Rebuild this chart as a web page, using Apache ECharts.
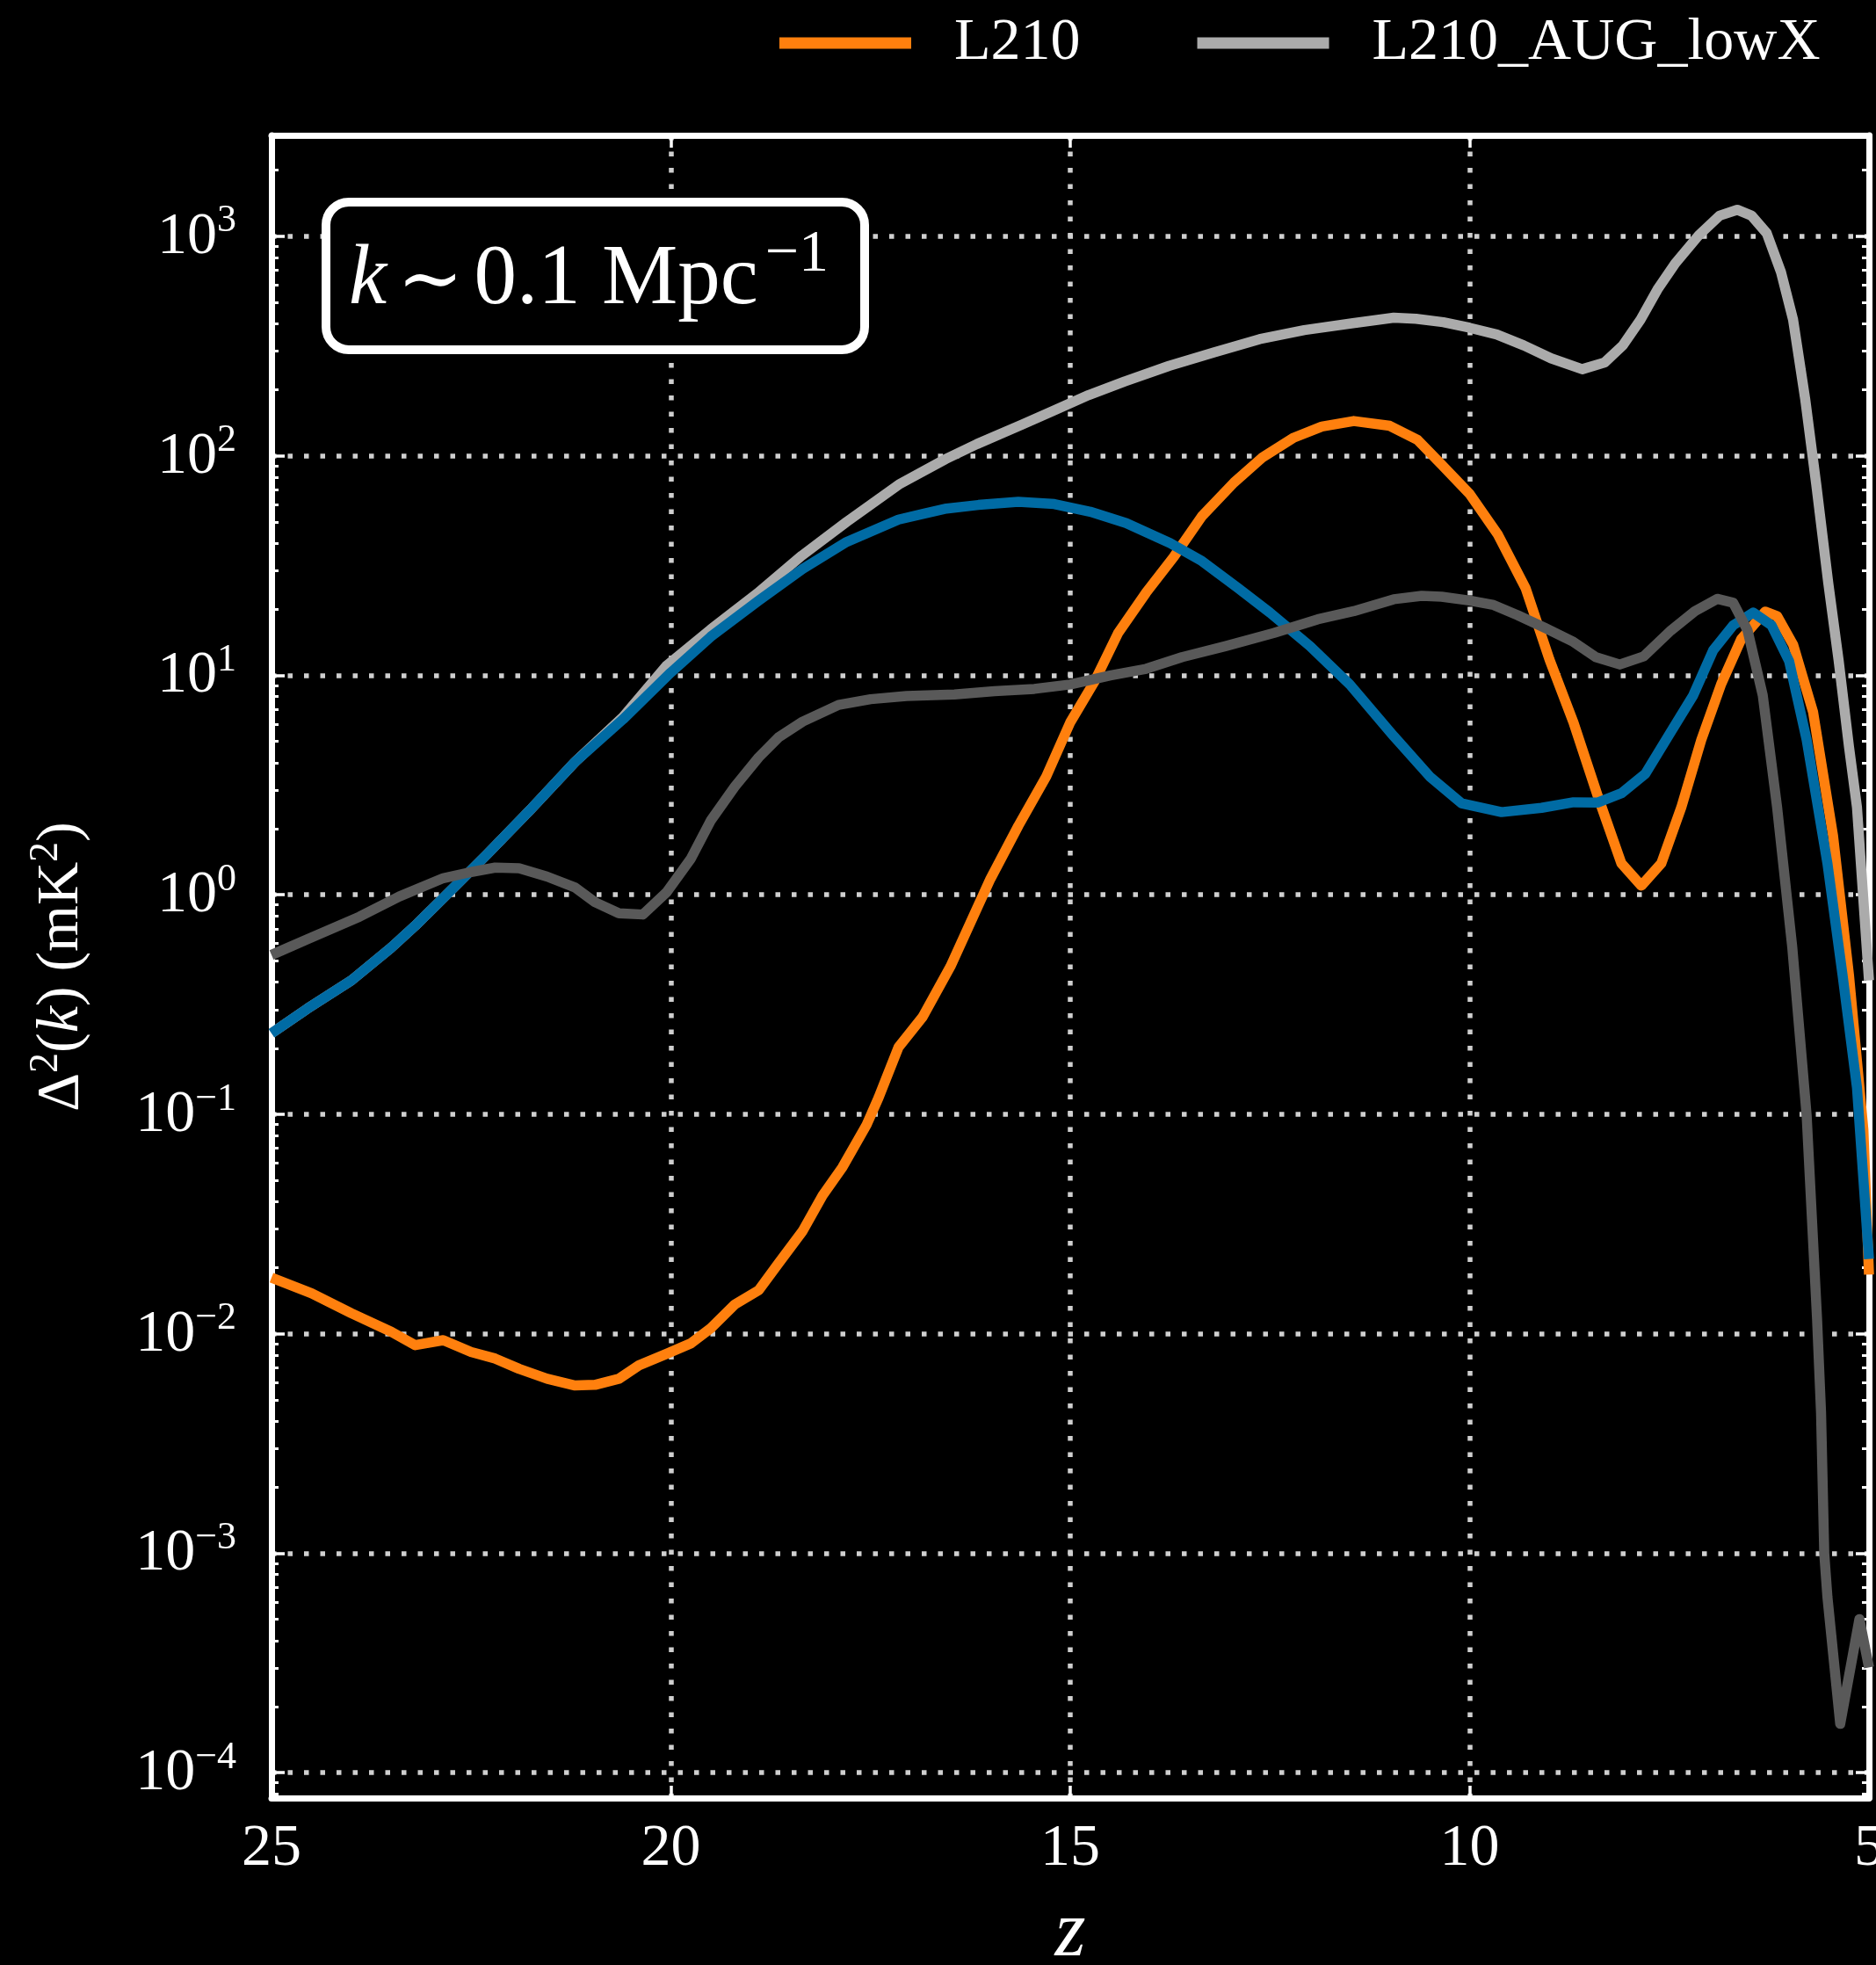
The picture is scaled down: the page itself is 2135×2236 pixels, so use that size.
<!DOCTYPE html>
<html>
<head>
<meta charset="utf-8">
<script src="https://cdn.jsdelivr.net/npm/echarts@6/dist/echarts.min.js"></script>
<style>
  html, body { margin: 0; padding: 0; background: #000; }
  #chart { width: 2135px; height: 2236px; }
</style>
</head>
<body>
<div id="chart"></div>
<script>
// Power spectrum amplitude at k ~ 0.1 Mpc^-1 against redshift, four runs.
const FONT = '"Liberation Serif", "Times New Roman", "DejaVu Serif", serif';

// x axis (redshift) ticks
const zTicks = [25, 20, 15, 10, 5];
// y axis (log) decades and their exponent labels
const yDecades = [1e-4, 1e-3, 1e-2, 1e-1, 1, 10, 100, 1000];
const yExponents = ['−4', '−3', '−2', '−1', '0', '1', '2', '3'];
const Y_MIN = 7.67e-5;
const Y_MAX = 2884;

// L210
const L210_z = [25.0, 24.5, 24.0, 23.5, 23.2, 22.85, 22.5, 22.2, 21.9, 21.55,
  21.2, 20.95, 20.65, 20.4, 20.05, 19.75, 19.5, 19.2, 18.9, 18.65,
  18.35, 18.1, 17.85, 17.55, 17.4, 17.15, 16.85, 16.5, 16.0, 15.65,
  15.3, 15.0, 14.7, 14.4, 14.05, 13.7, 13.35, 12.95, 12.6, 12.2,
  11.85, 11.45, 11.0, 10.65, 10.35, 10.0, 9.65, 9.3, 9.0, 8.7,
  8.4, 8.1, 7.85, 7.6, 7.35, 7.1, 6.85, 6.6, 6.3, 6.15,
  5.95, 5.7, 5.45, 5.25, 5.07, 5.0];
const L210_val = [0.0180, 0.0153, 0.0124, 0.0102, 0.00887, 0.00935, 0.00826, 0.00771, 0.00692, 0.00624,
  0.00581, 0.00585, 0.00624, 0.00718, 0.00811, 0.00904, 0.0106, 0.0136, 0.0158, 0.0210,
  0.0294, 0.0427, 0.0575, 0.0895, 0.119, 0.202, 0.277, 0.471, 1.18, 2.06,
  3.46, 6.10, 9.31, 15.6, 23.8, 34.8, 53.1, 75.5, 97.9, 121,
  136, 144, 137, 118, 91.2, 67.1, 44.0, 25.0, 11.8, 6.10,
  2.85, 1.39, 1.10, 1.39, 2.50, 5.07, 9.12, 14.6, 19.5, 18.6,
  13.8, 6.81, 1.86, 0.429, 0.085, 0.0186];

// L210_AUG_lowX
const augLowX_z = [25.0, 24.55, 24.0, 23.5, 23.2, 22.75, 22.3, 21.75, 21.2, 20.6,
  20.05, 19.5, 18.92, 18.36, 17.8, 17.13, 16.56, 16.17, 15.6, 15.22,
  14.77, 14.32, 13.76, 13.2, 12.63, 12.07, 11.46, 10.95, 10.67, 10.33,
  10.0, 9.66, 9.32, 8.98, 8.59, 8.31, 8.08, 7.86, 7.64, 7.42,
  7.13, 6.87, 6.65, 6.47, 6.28, 6.10, 5.95, 5.80, 5.66, 5.51,
  5.38, 5.25, 5.15, 5.0];
const augLowX_val = [0.234, 0.303, 0.407, 0.575, 0.723, 1.05, 1.53, 2.46, 4.03, 6.45,
  11.1, 16.2, 23.6, 35.1, 50.0, 74.6, 96.6, 113, 139, 160,
  189, 218, 257, 296, 340, 374, 402, 426, 421, 406,
  383, 357, 318, 278, 248, 266, 319, 417, 579, 757,
  1012, 1242, 1321, 1242, 1033, 684, 417, 183, 74.0, 26.4,
  11.7, 4.72, 2.50, 0.407];

// L210_AUG
const aug_z = [25.0, 24.55, 24.0, 23.5, 23.2, 22.75, 22.3, 21.75, 21.2, 20.6,
  20.0, 19.5, 18.9, 18.35, 17.8, 17.15, 16.85, 16.55, 16.15, 15.65,
  15.2, 14.75, 14.3, 13.75, 13.35, 12.9, 12.5, 12.0, 11.5, 10.95,
  10.5, 10.1, 9.6, 9.1, 8.7, 8.4, 8.1, 7.8, 7.5, 7.2,
  6.95, 6.7, 6.45, 6.22, 6.0, 5.78, 5.52, 5.33, 5.15, 5.0];
const aug_val = [0.234, 0.303, 0.407, 0.575, 0.723, 1.05, 1.53, 2.46, 4.03, 6.30,
  10.3, 15.0, 21.9, 30.5, 40.5, 51.2, 54.3, 57.5, 59.7, 61.7,
  60.3, 55.6, 49.4, 40.0, 33.1, 25.0, 19.3, 13.6, 9.08, 5.28,
  3.46, 2.61, 2.38, 2.49, 2.64, 2.63, 2.90, 3.56, 5.37, 8.11,
  13.0, 16.9, 19.3, 16.9, 11.6, 5.07, 1.39, 0.429, 0.132, 0.0219];

// L210_lowX
const lowX_z = [25.0, 24.55, 23.9, 23.4, 22.85, 22.5, 22.2, 21.9, 21.55, 21.2,
  20.95, 20.65, 20.35, 20.05, 19.75, 19.5, 19.2, 18.9, 18.65, 18.35,
  17.9, 17.5, 17.05, 16.45, 15.95, 15.45, 15.0, 14.5, 14.05, 13.6,
  13.05, 12.45, 11.9, 11.45, 10.95, 10.6, 10.35, 10.0, 9.7, 9.4,
  9.05, 8.7, 8.42, 8.12, 7.82, 7.48, 7.18, 6.9, 6.7, 6.52,
  6.33, 6.15, 5.96, 5.78, 5.65, 5.60, 5.56, 5.52, 5.36, 5.12,
  5.0];
const lowX_val = [0.532, 0.628, 0.794, 0.982, 1.19, 1.27, 1.33, 1.32, 1.21, 1.08,
  0.925, 0.824, 0.813, 1.03, 1.46, 2.18, 3.11, 4.23, 5.22, 6.15,
  7.33, 7.78, 8.05, 8.17, 8.47, 8.67, 9.08, 9.98, 10.7, 12.1,
  13.6, 15.6, 18.0, 19.6, 22.2, 23.0, 22.8, 21.9, 20.9, 18.8,
  16.4, 14.2, 12.1, 11.2, 12.2, 16.0, 19.6, 22.3, 21.4, 16.0,
  8.11, 2.50, 0.575, 0.0984, 0.0117, 0.00437, 0.00100, 0.000631, 0.000167, 0.000501,
  0.000302];

const COLORS = { L210: '#FF800E', augLowX: '#ABABAB', aug: '#006BA4', lowX: '#595959' };

// minor log ticks at 2..9 x 10^n inside the axis range
const yMinor = [];
for (let e = -5; e <= 3; e++) {
  for (let m = 2; m <= 9; m++) {
    const v = m * Math.pow(10, e);
    if (v >= Y_MIN && v <= Y_MAX) yMinor.push(v);
  }
}

const WHITE = '#ffffff';
const SPINE_W = 7;
const GRID_LINE = { show: true, lineStyle: { color: '#cfcfcf', width: 5.5, type: [5.5, 13] } };

function pairs(zs, vs) { return zs.map((z, i) => [z, vs[i]]); }
function lineSeries(name, color, zs, vs) {
  return {
    name: name, type: 'line', data: pairs(zs, vs),
    xAxisIndex: 0, yAxisIndex: 0,
    showSymbol: false, symbol: 'none', silent: true, clip: true,
    lineStyle: { color: color, width: 11.5, join: 'round', cap: 'butt' },
    itemStyle: { color: color }
  };
}

function expLabel(value) {
  const e = Math.round(Math.log10(value));
  const idx = yDecades.findIndex(d => Math.round(Math.log10(d)) === e);
  return '{b|10}{s|' + yExponents[idx] + '}';
}

function logAxis(position, tickValues, tickLen, tickWidth, withLine, withLabels, withGrid) {
  return {
    type: 'log', logBase: 10, position: position,
    min: Y_MIN, max: Y_MAX,
    axisLine: { show: withLine, lineStyle: { color: WHITE, width: SPINE_W } },
    axisTick: { show: true, inside: true, length: tickLen, customValues: tickValues,
      lineStyle: { color: WHITE, width: tickWidth } },
    axisLabel: withLabels ? {
      show: true, customValues: yDecades, margin: 40, formatter: expLabel,
      rich: {
        b: { fontFamily: FONT, fontSize: 68, color: WHITE, verticalAlign: 'bottom', lineHeight: 70 },
        s: { fontFamily: FONT, fontSize: 44, color: WHITE, verticalAlign: 'bottom', lineHeight: 44, padding: [0, 0, 30, 0] }
      }
    } : { show: false },
    splitLine: withGrid ? GRID_LINE : { show: false },
    minorTick: { show: false }
  };
}

const option = {
  backgroundColor: '#000000',
  animation: false,
  grid: { left: 309, right: 8, top: 154, bottom: 190, outerBoundsMode: 'none', containLabel: false },
  legend: {
    left: 887, top: 15, padding: 0,
    itemWidth: 150, itemHeight: 13, itemGap: 133,
    data: [{ name: 'L210', icon: 'rect' }, { name: 'L210_AUG_lowX', icon: 'rect' }],
    textStyle: { color: WHITE, fontFamily: FONT, fontSize: 68, padding: [0, 0, 0, 44] },
    selectedMode: false
  },
  xAxis: [
    {
      type: 'value', position: 'bottom', min: 5, max: 25, interval: 5, inverse: true,
      axisLine: { show: true, lineStyle: { color: WHITE, width: SPINE_W } },
      axisTick: { show: true, inside: true, length: 14, lineStyle: { color: WHITE, width: 3.5 } },
      axisLabel: { show: true, color: WHITE, fontFamily: FONT, fontSize: 68, margin: 24,
        customValues: zTicks },
      splitLine: GRID_LINE,
      name: 'z', nameLocation: 'middle', nameGap: 110,
      nameTextStyle: { color: WHITE, fontFamily: FONT, fontSize: 90, fontStyle: 'italic' }
    },
    {
      type: 'value', position: 'top', min: 5, max: 25, interval: 5, inverse: true,
      axisLine: { show: true, lineStyle: { color: WHITE, width: SPINE_W } },
      axisTick: { show: true, inside: true, length: 14, lineStyle: { color: WHITE, width: 3.5 } },
      axisLabel: { show: false },
      splitLine: { show: false }
    }
  ],
  yAxis: [
    Object.assign(logAxis('left', yDecades, 15, 3.5, true, true, true), {
      name: '{n|Δ}{s|2}{n|(}{i|k}{n|) (mK}{s|2}{n|)}',
      nameLocation: 'middle', nameGap: 205,
      nameTextStyle: {
        color: WHITE,
        rich: {
          n: { fontFamily: FONT, fontSize: 68, color: WHITE, verticalAlign: 'bottom', lineHeight: 70 },
          i: { fontFamily: FONT, fontSize: 68, fontStyle: 'italic', color: WHITE, verticalAlign: 'bottom', lineHeight: 70 },
          s: { fontFamily: FONT, fontSize: 46, color: WHITE, verticalAlign: 'bottom', lineHeight: 46, padding: [0, 0, 28, 0] }
        }
      }
    }),
    logAxis('left', yMinor, 8, 3, false, false, false),
    logAxis('right', yDecades, 15, 3.5, true, false, false),
    logAxis('right', yMinor, 8, 3, false, false, false)
  ],
  graphic: [
    { type: 'rect', shape: { x: 371, y: 230, width: 613, height: 168, r: 26 },
      style: { fill: '#000000', stroke: WHITE, lineWidth: 10 }, z: 10 },
    { type: 'text', x: 397, y: 318, z: 11,
      style: {
        text: '{k|k}{t|∼}{n|0.1 Mpc}{s|−1}',
        verticalAlign: 'middle', align: 'left', fill: WHITE,
        rich: {
          k: { fontFamily: FONT, fontSize: 97, fontStyle: 'italic', fill: WHITE, verticalAlign: 'bottom', lineHeight: 100 },
          t: { fontFamily: FONT, fontSize: 90, fill: WHITE, verticalAlign: 'bottom', lineHeight: 100, padding: [0, 12, 0, 12] },
          n: { fontFamily: FONT, fontSize: 97, fill: WHITE, verticalAlign: 'bottom', lineHeight: 100 },
          s: { fontFamily: FONT, fontSize: 68, fill: WHITE, verticalAlign: 'bottom', lineHeight: 68, padding: [0, 0, 44, 8] }
        }
      } }
  ],
  series: [
    lineSeries('L210', COLORS.L210, L210_z, L210_val),
    lineSeries('L210_AUG_lowX', COLORS.augLowX, augLowX_z, augLowX_val),
    lineSeries('L210_AUG', COLORS.aug, aug_z, aug_val),
    lineSeries('L210_lowX', COLORS.lowX, lowX_z, lowX_val)
  ]
};

const chart = echarts.init(document.getElementById('chart'), null, { renderer: 'canvas', width: 2135, height: 2236 });
chart.setOption(option);
</script>
</body>
</html>
